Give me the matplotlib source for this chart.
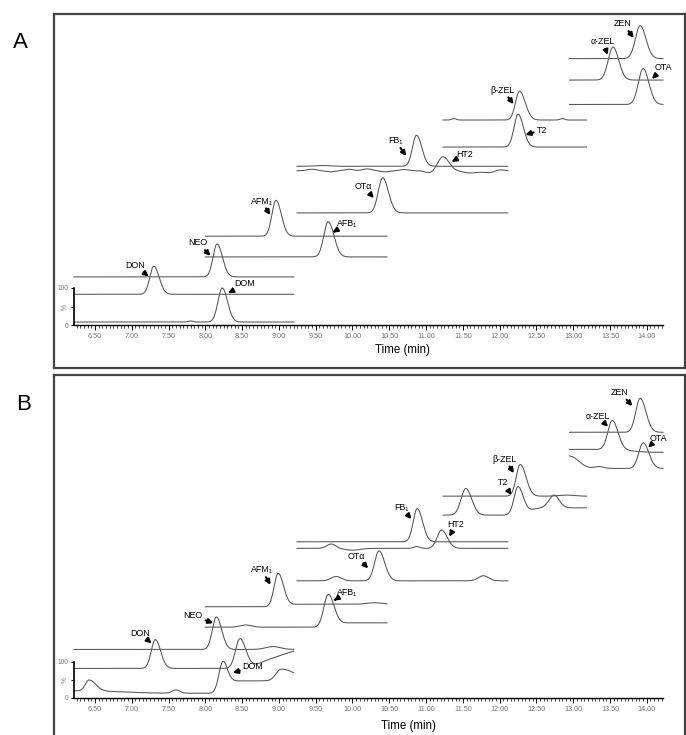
import numpy as np
import matplotlib.pyplot as plt
from matplotlib.ticker import MultipleLocator

plt.rcParams['font.family'] = ['Liberation Sans', 'DejaVu Sans']

# ------------------------------------------------------------
# data: stacked MRM chromatograms, intensity in % (offset stacks)
# ------------------------------------------------------------
names = ["DOM", "DON", "NEO", "AFB₁", "AFM₁", "OTα", "HT2", "FB₁",
         "T2", "β-ZEL", "OTA", "α-ZEL", "ZEN"]

# acquisition windows (min) and which window each trace belongs to
win_start = [6.215, 8.0, 9.245, 11.23, 12.95]
win_end = [9.2, 10.47, 12.11, 13.18, 14.22]
win_of = [0, 0, 0, 1, 1, 2, 2, 2, 3, 3, 4, 4, 4]

# panel A (standard): baseline offsets and peaks (rt, height, w_left, w_right)
A_base = [8, 83, 130, 184, 240, 303, 417, 429, 481, 554, 596, 662, 720]
A_peaks = [
    [(7.8, 3, .03, .03), (8.23, 92, .058, .072)],
    [(7.30, 76, .055, .072)],
    [(8.16, 89, .055, .072)],
    [(9.67, 95, .06, .078)],
    [(8.96, 97, .055, .072)],
    [(10.41, 95, .06, .078)],
    [(9.45, 4, .06, .06), (9.7, -3, .06, .06), (9.95, 4, .06, .06),
     (10.2, 5, .06, .06), (10.45, -3, .06, .06), (10.7, 3, .06, .06),
     (11.05, -6, .06, .06), (11.23, 38, .07, .08), (11.6, -6, .1, .1),
     (11.85, -5, .08, .08), (12.0, 3, .05, .05)],
    [(9.6, 2, .1, .1), (10.87, 84, .055, .072)],
    [(12.25, 89, .055, .072)],
    [(11.38, 4, .03, .03), (12.27, 78, .055, .078), (12.85, 4, .03, .03)],
    [(13.95, 97, .065, .078)],
    [(13.54, 89, .065, .078)],
    [(13.91, 89, .065, .078)],
]
A_steps = [[] for _ in names]

# panel B (sample)
B_base = [20, 81, 133, 194, 250, 321, 410, 428, 501, 553, 629, 681, 728]
B_peaks = [
    [(6.42, 30, .05, .09), (7.6, 9, .05, .05), (8.24, 86, .055, .066), (9.03, 32, .07, .2)],
    [(7.32, 79, .055, .072), (8.47, 80, .06, .08), (9.3, 20, .2, .2)],
    [(8.15, 89, .055, .072), (8.92, 8, .1, .1)],
    [(8.55, 6, .08, .08), (9.67, 88, .06, .078)],
    [(8.99, 91, .055, .072), (10.3, 4, .1, .1)],
    [(9.78, 12, .07, .07), (10.36, 82, .06, .078), (11.78, 14, .07, .07)],
    [(9.71, 12, .06, .06), (10.0, -5, .1, .1), (10.87, 5, .04, .04), (11.21, 50, .06, .078)],
    [(10.88, 91, .055, .072)],
    [(11.54, 73, .065, .08), (12.25, 77, .055, .072), (12.74, 35, .07, .07)],
    [(12.28, 87, .055, .078), (12.9, 3, .1, .1)],
    [(12.95, 34, .12, .12), (13.35, 5, .06, .06), (13.95, 70, .06, .078)],
    [(13.53, 80, .06, .078)],
    [(13.91, 93, .06, .078)],
]
B_steps = [
    [(6.9, -7, .2), (8.33, 34, .03)],
    [(8.75, 30, .1)],
    [], [(9.75, 12, .05)], [(9.1, 7, .05)], [], [], [],
    [(12.4, 20, .05)], [], [], [(13.8, -8, .1)], [],
]

# ------------------------------------------------------------
# label layout (text pos, arrow tip) in (min, %) coordinates
# ------------------------------------------------------------
A_txt = [(8.54, 111), (7.04, 162), (7.90, 222), (9.92, 273), (8.765, 335),
         (10.15, 374), (11.53, 462), (10.58, 498), (12.57, 527), (12.04, 635),
         (14.22, 695), (13.40, 766), (13.674, 814)]
A_tip = [(8.31, 86), (7.23, 131), (8.07, 187), (9.73, 250), (8.88, 297),
         (10.29, 343), (11.35, 441), (10.73, 457), (12.35, 514), (12.19, 597),
         (14.07, 665), (13.47, 730), (13.823, 776)]
B_txt = [(8.647, 86), (7.111, 177), (7.836, 225), (9.92, 289), (8.765, 351),
         (10.056, 389), (11.405, 474), (10.667, 523), (12.048, 590), (12.07, 654),
         (14.153, 712), (13.338, 771), (13.633, 837)]
B_tip = [(8.375, 69), (7.27, 150), (8.107, 205), (9.747, 267), (8.886, 310),
         (10.213, 355), (11.314, 442), (10.80, 490), (12.16, 556), (12.193, 616),
         (14.018, 686), (13.474, 743), (13.805, 800)]


def trace(t, base, peaks, steps):
    y = np.full_like(t, float(base))
    for c, h, wl, wr in peaks:
        w = np.where(t < c, wl, wr)
        y += h * np.exp(-0.5 * ((t - c) / w) ** 2)
    for c, h, w in steps:
        y += h / (1 + np.exp(-(t - c) / w))
    return y


W, H = 686, 735
fig = plt.figure(figsize=(W / 100, H / 100), dpi=100)


def px_axes(l, t, r, b):
    return fig.add_axes([l / W, 1 - b / H, (r - l) / W, (b - t) / H])


# outer frames
for box in [(54, 13.5, 685, 368), (54, 375, 685, 760)]:
    f = px_axes(*box)
    f.set_xticks([])
    f.set_yticks([])
    f.patch.set_alpha(0)
    for s in f.spines.values():
        s.set_color('#444444')
        s.set_linewidth(1.6)


def panel(ax, base, peaks, steps, txt, tip):
    ax.patch.set_alpha(0)
    ax.set_xlim(6.215, 14.22)
    ax.set_ylim(0, 100)
    for s in ['top', 'right']:
        ax.spines[s].set_visible(False)
    ax.spines['bottom'].set_linewidth(1.0)
    ax.spines['left'].set_linewidth(1.2)
    maj = np.arange(6.5, 14.01, 0.5)
    ax.set_xticks(maj)
    ax.set_xticklabels([f"{v:.2f}" for v in maj])
    ax.xaxis.set_minor_locator(MultipleLocator(0.05))
    ax.tick_params(axis='x', which='major', length=3.5, width=0.7, pad=2,
                   labelsize=5.2, labelcolor='#777777')
    ax.tick_params(axis='x', which='minor', length=2, width=0.5)
    ax.set_yticks([0, 50, 100])
    ax.set_yticklabels(['0', '%', '100'])
    ax.get_yticklabels()[1].set_rotation(90)
    ax.tick_params(axis='y', length=2.5, width=0.7, pad=1.5,
                   labelsize=4.8, labelcolor='#777777')

    for i in range(len(names)):
        w = win_of[i]
        t = np.linspace(win_start[w], win_end[w], 700)
        y = trace(t, base[i], peaks[i], steps[i])
        ax.plot(t, y, color='#555555', lw=0.75, clip_on=False)

    for i, name in enumerate(names):
        ax.annotate(name, xy=tip[i], xytext=txt[i], ha='center', va='center',
                    fontsize=6.4, color='black', annotation_clip=False,
                    arrowprops=dict(arrowstyle='-|>', color='black', lw=1.5,
                                    mutation_scale=7, shrinkA=0, shrinkB=0))


axA = px_axes(74, 288, 663, 325)
panel(axA, A_base, A_peaks, A_steps, A_txt, A_tip)
axB = px_axes(74, 661.5, 663, 698)
panel(axB, B_base, B_peaks, B_steps, B_txt, B_tip)

fig.text(402 / W, 1 - 350 / H, 'Time (min)', ha='center', va='center', fontsize=8.3)
fig.text(408 / W, 1 - 725.7 / H, 'Time (min)', ha='center', va='center', fontsize=8.3)
fig.text(20 / W, 1 - 43 / H, 'A', ha='center', va='center', fontsize=16)
fig.text(24 / W, 1 - 405 / H, 'B', ha='center', va='center', fontsize=16)

fig.savefig('out.png', dpi=100)
